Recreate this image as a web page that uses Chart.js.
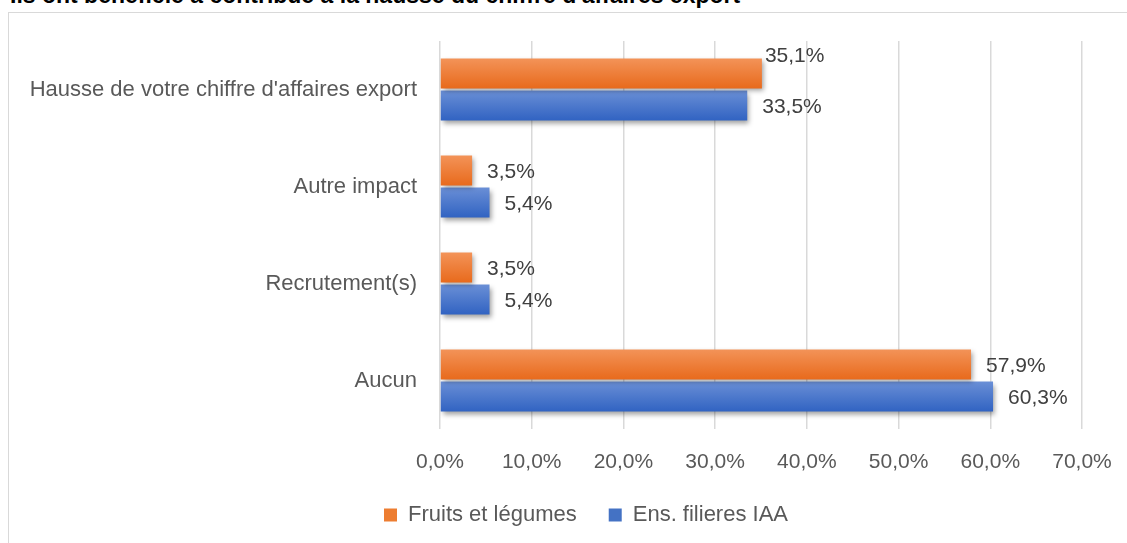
<!DOCTYPE html>
<html><head><meta charset="utf-8">
<script src="https://cdn.jsdelivr.net/npm/chart.js@4/dist/chart.umd.min.js"></script>
<style>
html,body{margin:0;padding:0;background:#fff;width:1127px;height:543px;overflow:hidden;}
#title{position:absolute;left:10px;top:-16px;font:bold 23px 'Liberation Sans',Arial,sans-serif;color:#000;white-space:nowrap;line-height:1;}
#frame{position:absolute;left:8px;top:12px;width:1200px;height:600px;border:1px solid #d9d9d9;box-sizing:border-box;}
#wrap{position:absolute;left:0;top:0;width:1127px;height:543px;}
</style></head><body>
<div id="title">Ils ont bénéficié à contribué à la hausse du chiffre d'affaires export</div>
<div id="frame"></div>
<div id="wrap"><canvas id="c" width="1127" height="543"></canvas></div>
<script>
const categories = ["Hausse de votre chiffre d'affaires export", "Autre impact", "Recrutement(s)", "Aucun"];
const seriesNames = ["Fruits et légumes", "Ens. filieres IAA"];
const fruitsLegumes = [35.1, 3.5, 3.5, 57.9];
const ensFilieres = [33.5, 5.4, 5.4, 60.3];
const xTickValues = [0, 10, 20, 30, 40, 50, 60, 70];

const FONT = "'Liberation Sans',Arial,sans-serif";
const FS_NUM = 21, FS_TXT = 22;
const CAT_PCT = 0.66, BAR_PCT = 0.9375;
const legendColors = ['#ED7D31', '#4472C4'];
const fmt = v => Number(v).toFixed(1).replace('.', ',') + '%';

function barGradient(top, bottom) {
  return (ctx) => {
    const chart = ctx.chart, ca = chart.chartArea;
    if (!ca || ctx.type !== 'data' || !chart.scales.y) return bottom;
    const cw = (ca.bottom - ca.top) / categories.length;
    const slot = cw * CAT_PCT / 2;
    const center = chart.scales.y.getPixelForValue(ctx.dataIndex) + (ctx.datasetIndex === 0 ? -slot / 2 : slot / 2);
    const h = slot * BAR_PCT;
    const g = chart.ctx.createLinearGradient(0, center - h / 2, 0, center + h / 2);
    g.addColorStop(0, top);
    g.addColorStop(1, bottom);
    return g;
  };
}

const shadowPlugin = {
  id: 'shadow',
  beforeDatasetsDraw(chart) {
    const c = chart.ctx; c.save();
    c.shadowColor = 'rgba(0,0,0,0.38)'; c.shadowBlur = 5; c.shadowOffsetX = 2; c.shadowOffsetY = 3;
  },
  afterDatasetsDraw(chart) { chart.ctx.restore(); }
};

const legendShift = {
  id: 'legendShift',
  afterLayout(chart) {
    const l = chart.legend;
    if (l) { l.left += 41; l.right += 41; }
  }
};

const labelNudge = { '0-0': { dx: 3, dy: -17.5 } };
const labelPlugin = {
  id: 'valueLabels',
  afterDraw(chart) {
    const c = chart.ctx; c.save();
    c.font = FS_NUM + 'px ' + FONT; c.fillStyle = '#404040';
    c.textAlign = 'left'; c.textBaseline = 'middle';
    chart.data.datasets.forEach((ds, i) => {
      chart.getDatasetMeta(i).data.forEach((bar, j) => {
        const n = labelNudge[i + '-' + j] || { dx: 15, dy: 2 };
        c.fillText(fmt(ds.data[j]), bar.x + n.dx, bar.y + n.dy);
      });
    });
    c.restore();
  }
};

new Chart(document.getElementById('c'), {
  type: 'bar',
  data: {
    labels: categories,
    datasets: [
      { label: seriesNames[0], data: fruitsLegumes, backgroundColor: barGradient('#F39358', '#E86A1C'),
        categoryPercentage: CAT_PCT, barPercentage: BAR_PCT, borderWidth: 0 },
      { label: seriesNames[1], data: ensFilieres, backgroundColor: barGradient('#6A8FD6', '#3163C2'),
        categoryPercentage: CAT_PCT, barPercentage: BAR_PCT, borderWidth: 0 }
    ]
  },
  options: {
    indexAxis: 'y',
    responsive: false,
    animation: false,
    devicePixelRatio: 1,
    layout: { padding: { left: 8, right: 45, top: 41, bottom: 7 } },
    scales: {
      x: {
        type: 'linear', min: 0, max: 70,
        afterBuildTicks(s) { s.ticks = xTickValues.map(v => ({ value: v })); },
        ticks: { callback: v => fmt(v), font: { size: FS_NUM, family: FONT }, color: '#595959', padding: 21, maxRotation: 0 },
        grid: { color: '#d9d9d9', lineWidth: 1.5, drawTicks: false },
        border: { display: false },
        afterFit(s) { s.height = 65; s.paddingLeft = 0; s.paddingRight = 0; }
      },
      y: {
        type: 'category',
        grid: { display: false, drawTicks: false },
        border: { display: false },
        ticks: { font: { size: FS_TXT, family: FONT }, color: '#595959', padding: 23 },
        afterFit(s) { s.width = 432; s.paddingTop = 0; s.paddingBottom = 0; }
      }
    },
    plugins: {
      tooltip: { enabled: false },
      legend: {
        position: 'bottom',
        labels: {
          boxWidth: 13, boxHeight: 13, padding: 10,
          font: { size: FS_TXT, family: FONT }, color: '#595959',
          generateLabels(chart) {
            return chart.data.datasets.map((ds, i) => ({
              text: ds.label + (i === 0 ? '\u2002\u2002' : ''), fillStyle: legendColors[i], strokeStyle: legendColors[i],
              lineWidth: 0, hidden: false, datasetIndex: i, fontColor: '#595959'
            }));
          }
        }
      }
    }
  },
  plugins: [shadowPlugin, labelPlugin, legendShift]
});
</script>
</body></html>
